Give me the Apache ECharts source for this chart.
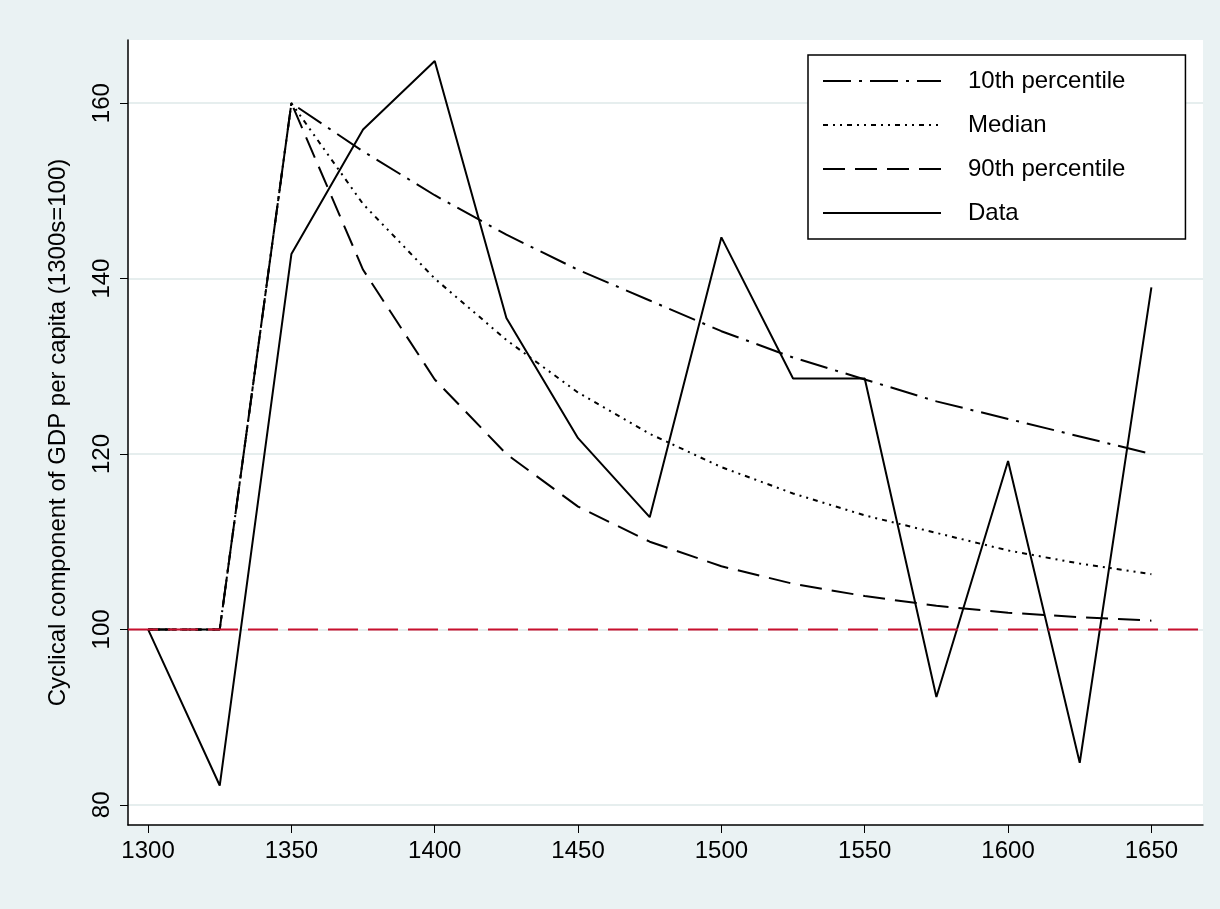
<!DOCTYPE html>
<html>
<head>
<meta charset="utf-8">
<script src="https://cdn.jsdelivr.net/npm/echarts@6/dist/echarts.min.js"></script>
<style>html,body{margin:0;background:#eaf2f3;}#main{width:1220px;height:909px;}</style>
</head>
<body>
<div id="main"></div>
<script>
const years = [1300, 1325, 1350, 1375, 1400, 1425, 1450, 1475, 1500, 1525, 1550, 1575, 1600, 1625, 1650];
const p10 = [100, 100, 160, 154.5, 149.5, 145, 141, 137.5, 134, 131, 128.5, 126, 124, 122, 120];
const median = [100, 100, 160, 148.5, 140, 133, 127, 122.3, 118.5, 115.5, 113, 111, 109, 107.5, 106.3];
const p90 = [100, 100, 160, 141, 128.5, 120, 114, 110, 107.2, 105.2, 103.8, 102.7, 101.9, 101.4, 101];
const data = [100, 82.2, 142.8, 157, 164.8, 135.5, 121.8, 112.8, 144.7, 128.6, 128.6, 92.3, 119.2, 84.8, 139];
const xTicks = [1300, 1350, 1400, 1450, 1500, 1550, 1600, 1650];
const yTicks = [80, 100, 120, 140, 160];

const pair = arr => years.map((y, i) => [y, arr[i]]);
const mk = (name, arr, dash) => ({
  name: name, type: 'line', data: pair(arr), symbol: 'none',
  lineStyle: { color: '#000', width: 2, type: dash }, itemStyle: { color: '#000' }
});

const chart = echarts.init(document.getElementById('main'));
chart.setOption({
  backgroundColor: '#eaf2f3',
  animation: false,
  textStyle: { fontFamily: 'Liberation Sans' },
  grid: { left: 128, right: 17, top: 40, bottom: 84, show: true, backgroundColor: '#fff', borderWidth: 0 },
  legend: {
    orient: 'vertical', left: 808, top: 55, itemWidth: 118, itemHeight: 14, itemGap: 20,
    padding: [14, 60, 14, 14], borderColor: '#000', borderWidth: 1.5, backgroundColor: '#fff',
    itemStyle: { opacity: 0 },
    textStyle: { fontSize: 24, color: '#000', padding: [0, 0, 0, 22] },
    data: ['10th percentile', 'Median', '90th percentile', 'Data']
  },
  xAxis: {
    type: 'value', min: 1293, max: 1668,
    axisLine: { show: true, onZero: false, lineStyle: { color: '#000', width: 1.5 } },
    axisTick: { show: true, customValues: xTicks, length: 8, lineStyle: { color: '#000' } },
    axisLabel: { customValues: xTicks, fontSize: 24, color: '#000', margin: 14, formatter: v => String(v) },
    splitLine: { show: false }
  },
  yAxis: {
    type: 'value', min: 77.7, max: 167.2,
    name: 'Cyclical component of GDP per capita (1300s=100)', nameLocation: 'middle', nameGap: 58,
    nameTextStyle: { fontSize: 24, color: '#000' },
    axisLine: { show: true, lineStyle: { color: '#000', width: 1.5 } },
    axisTick: { show: true, customValues: yTicks, length: 8, lineStyle: { color: '#000' } },
    axisLabel: { customValues: yTicks, fontSize: 24, color: '#000', rotate: 90, margin: 14 },
    splitLine: { show: true, customValues: yTicks, lineStyle: { color: '#e6eeee', width: 2 } }
  },
  series: [
    mk('10th percentile', p10, [28, 8, 3, 8]),
    mk('Median', median, [5, 5, 2, 5, 2, 5]),
    mk('90th percentile', p90, [22, 10]),
    mk('Data', data, 'solid'),
    {
      name: 'ref', type: 'line', data: [[1293, 100], [1668, 100]], symbol: 'none',
      lineStyle: { color: '#c8102e', width: 2, type: [30, 10] }
    }
  ]
});
</script>
</body>
</html>
